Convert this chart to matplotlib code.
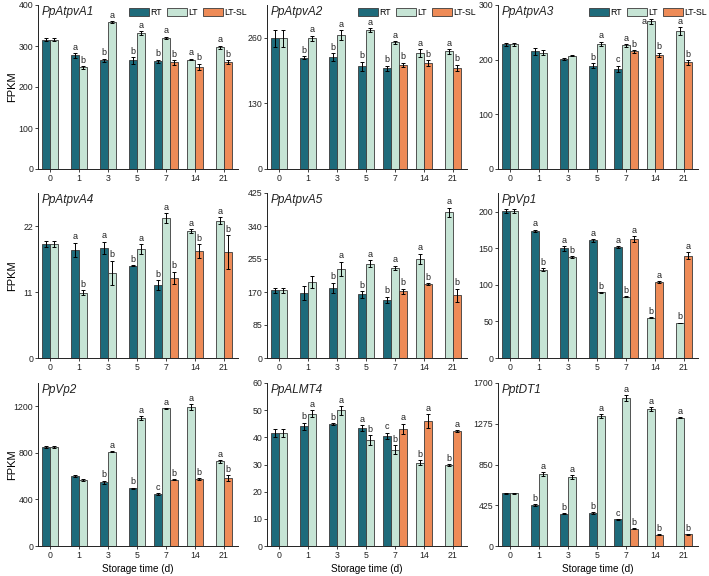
import numpy as np
import matplotlib
matplotlib.use("Agg")
import matplotlib.pyplot as plt
from matplotlib.patches import Patch

plt.rcParams['font.family'] = ['Liberation Sans', 'DejaVu Sans']

days = ['0', '1', '3', '5', '7', '14', '21']
series_names = ['RT', 'LT', 'LT-SL']
colors = ['#1e6b7b', '#c6e4d5', '#ee8b57']
N = np.nan

genes = ['PpAtpvA1', 'PpAtpvA2', 'PpAtpvA3', 'PpAtpvA4', 'PpAtpvA5', 'PpVp1', 'PpVp2', 'PpALMT4', 'PptDT1']

# values: [RT, LT, LT-SL] per day
rt_vals = [
    [315, 277, 265, 265, 263, N, N],
    [259, 220, 222, 204, 200, N, N],
    [228, 215, 201, 189, 183, N, N],
    [19.0, 18.0, 18.4, 15.4, 12.2, N, N],
    [174, 167, 181, 164, 150, N, N],
    [201, 174, 150, 161, 152, N, N],
    [850, 600, 546, 495, 446, N, N],
    [41.5, 44.1, 44.8, 43.3, 40.5, N, N],
    [552, 423, 337, 344, 278, N, N],
]
lt_vals = [
    [315, 248, 358, 332, 320, 267, 297],
    [259, 259, 265, 275, 251, 230, 233],
    [228, 213, 207, 229, 226, 270, 252],
    [19.0, 10.9, 14.2, 18.2, 23.3, 21.2, 22.9],
    [174, 196, 230, 243, 232, 256, 375],
    [201, 121, 138, 90, 84, 55, 48],
    [850, 566, 810, 1098, 1183, 1194, 728],
    [41.5, 48.7, 49.9, 39.0, 35.4, 30.7, 29.8],
    [552, 753, 718, 1357, 1541, 1430, 1336],
]
sl_vals = [
    [N, N, N, N, 260, 249, 261],
    [N, N, N, N, 207, 210, 201],
    [N, N, N, N, 215, 209, 195],
    [N, N, N, N, 13.4, 17.8, 17.7],
    [N, N, N, N, 172, 190, 161],
    [N, N, N, N, 163, 104, 140],
    [N, N, N, N, 569, 574, 583],
    [N, N, N, N, 43.2, 46.0, 42.3],
    [N, N, N, N, 180, 115, 121],
]
rt_err = [
    [4, 6, 4, 8, 4, 0, 0],
    [17, 3, 8, 9, 5, 0, 0],
    [3, 6, 2, 4, 6, 0, 0],
    [0.5, 1.2, 1.0, 0.1, 0.8, 0, 0],
    [6, 18, 13, 9, 8, 0, 0],
    [3, 2, 3, 1.5, 1.5, 0, 0],
    [8, 8, 15, 5, 5, 0, 0],
    [1.5, 1.3, 0.3, 1.1, 1.2, 0, 0],
    [5, 10, 5, 8, 5, 0, 0],
]
lt_err = [
    [4, 3, 2, 4, 3, 2, 4],
    [17, 5, 10, 4, 3, 8, 5],
    [3, 5, 1, 4, 3, 5, 7],
    [0.5, 0.4, 2.0, 0.8, 0.8, 0.3, 0.6],
    [6, 15, 18, 9, 6, 13, 12],
    [3, 2, 1.5, 0.5, 1, 0.5, 0.3],
    [8, 8, 5, 20, 3, 25, 12],
    [1.5, 1.2, 1.7, 1.7, 1.6, 0.8, 0.3],
    [5, 20, 20, 20, 30, 20, 5],
]
sl_err = [
    [0, 0, 0, 0, 6, 8, 5],
    [0, 0, 0, 0, 4, 6, 6],
    [0, 0, 0, 0, 3, 4, 4],
    [0, 0, 0, 0, 1.0, 1.2, 2.8],
    [0, 0, 0, 0, 7, 3, 18],
    [0, 0, 0, 0, 4, 1, 5],
    [0, 0, 0, 0, 5, 7, 25],
    [0, 0, 0, 0, 1.8, 2.5, 0.3],
    [0, 0, 0, 0, 5, 5, 5],
]
rt_let = [
    ['', 'a', 'b', 'b', 'b', '', ''],
    ['', 'b', 'b', 'b', 'b', '', ''],
    ['', '', '', 'b', 'c', '', ''],
    ['', 'a', 'a', 'b', 'b', '', ''],
    ['', '', 'b', 'b', 'b', '', ''],
    ['', 'a', 'a', 'a', 'a', '', ''],
    ['', '', 'b', 'b', 'c', '', ''],
    ['', 'b', 'b', 'a', 'c', '', ''],
    ['', 'b', 'b', 'b', 'c', '', ''],
]
lt_let = [
    ['', 'b', 'a', 'a', 'a', 'a', 'a'],
    ['', 'a', 'a', 'a', 'a', 'a', 'a'],
    ['', '', '', 'a', 'a', 'a', 'a'],
    ['', 'b', 'b', 'a', 'a', 'a', 'a'],
    ['', '', 'a', 'a', 'a', 'a', 'a'],
    ['', 'b', 'b', 'b', 'b', 'b', 'b'],
    ['', '', 'a', 'a', 'a', 'a', 'a'],
    ['', 'a', 'a', 'b', 'b', 'b', 'b'],
    ['', 'a', 'a', 'a', 'a', 'a', 'a'],
]
sl_let = [
    ['', '', '', '', 'b', 'b', 'b'],
    ['', '', '', '', 'b', 'b', 'b'],
    ['', '', '', '', 'b', 'b', 'b'],
    ['', '', '', '', 'b', 'b', 'b'],
    ['', '', '', '', 'b', 'b', 'b'],
    ['', '', '', '', 'a', 'a', 'a'],
    ['', '', '', '', 'b', 'b', 'b'],
    ['', '', '', '', 'a', 'a', 'a'],
    ['', '', '', '', 'b', 'b', 'b'],
]
ylims = [400, 325, 300, 27.5, 425, 226, 1400, 60, 1700]
yticks = [
    [0, 100, 200, 300, 400],
    [0, 130, 260],
    [0, 100, 200, 300],
    [0, 11, 22],
    [0, 85, 170, 255, 340, 425],
    [0, 50, 100, 150, 200],
    [0, 400, 800, 1200],
    [0, 10, 20, 30, 40, 50, 60],
    [0, 425, 850, 1275, 1700],
]

# letters drawn beside (left of) the bar instead of above: (panel, series, day)
side_letters = {(2, 1, 5)}

W, H = 709, 576
fig = plt.figure(figsize=(W / 100, H / 100), dpi=100)
col_left = [38, 267, 498]
row_top = [5, 193, 383]
row_bot = [169, 358, 546]
ax_w = 200

bw = 0.27
for i in range(9):
    r, c = divmod(i, 3)
    ax = fig.add_axes([col_left[c] / W, 1 - row_bot[r] / H, ax_w / W, (row_bot[r] - row_top[r]) / H])
    vals = [rt_vals[i], lt_vals[i], sl_vals[i]]
    errs = [rt_err[i], lt_err[i], sl_err[i]]
    lets = [rt_let[i], lt_let[i], sl_let[i]]
    ymax = ylims[i]
    for d in range(len(days)):
        present = [s for s in range(3) if not np.isnan(vals[s][d])]
        n = len(present)
        for k, s in enumerate(present):
            x = d + (k - (n - 1) / 2) * bw
            v = vals[s][d]
            e = errs[s][d]
            ax.bar(x, v, width=bw, color=colors[s], edgecolor='#3a3a3a', linewidth=0.6, zorder=2)
            ax.errorbar(x, v, yerr=e, fmt='none', ecolor='black', elinewidth=0.7, capsize=1.6, capthick=0.7, zorder=3)
            if lets[s][d]:
                if (i, s, d) in side_letters:
                    ax.text(x - bw * 0.55, v, lets[s][d], ha='right', va='center', fontsize=6.5, color='#222222')
                else:
                    ax.text(x, v + e + ymax * 0.008, lets[s][d], ha='center', va='bottom', fontsize=6.5, color='#222222')
    ax.set_xlim(-0.41, 6.49)
    ax.set_ylim(0, ymax)
    ax.set_xticks(range(len(days)))
    ax.set_xticklabels(days)
    ax.set_yticks(yticks[i])
    ax.tick_params(axis='both', labelsize=6.3, length=2, width=0.6, pad=1.5, colors='#222222')
    for sp in ['top', 'right']:
        ax.spines[sp].set_visible(False)
    for sp in ['left', 'bottom']:
        ax.spines[sp].set_linewidth(0.7)
        ax.spines[sp].set_color('#222222')
    ax.text(0.02, 0.955, genes[i], transform=ax.transAxes, fontsize=8.5, style='italic', ha='left', va='center', color='#222222')
    if c == 0:
        ax.set_ylabel('FPKM', fontsize=8)
        ax.yaxis.set_label_coords(-0.105, 0.5)
    if r == 2:
        ax.set_xlabel('Storage time (d)', fontsize=7.2, labelpad=3)
    if r == 0:
        handles = [Patch(facecolor=colors[s], edgecolor='#3a3a3a', linewidth=0.6) for s in range(3)]
        ax.legend(handles, series_names, loc='center right', bbox_to_anchor=(1.045, 0.955), ncol=3, frameon=False,
                  fontsize=6.3, handlelength=2.3, handleheight=1.15, handletextpad=0.2, columnspacing=0.5,
                  borderpad=0, borderaxespad=0)

fig.savefig('out.png', dpi=100)
